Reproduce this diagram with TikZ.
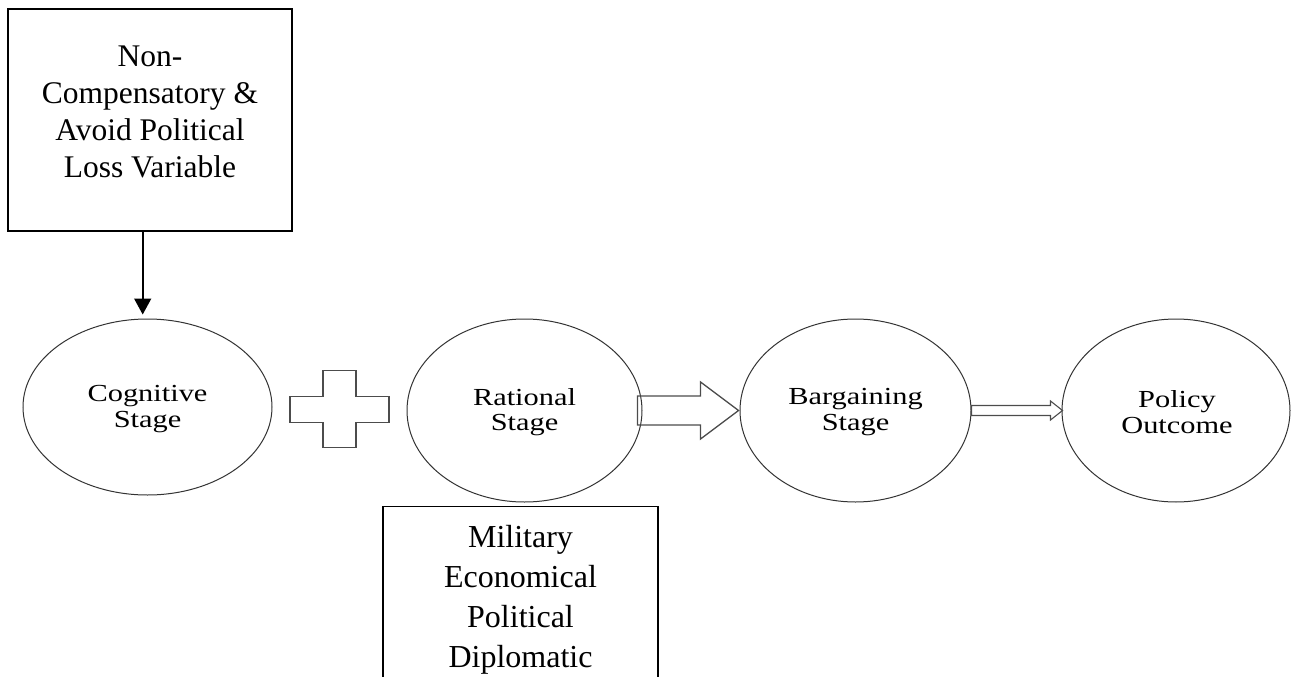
\documentclass[tikz,border=0pt]{standalone}
\usepackage{fontspec}
\setmainfont{Liberation Serif}
\newfontfamily\ellfont[FakeStretch=1.24]{Liberation Serif}
\usetikzlibrary{shapes.geometric,arrows.meta,calc}
\begin{document}
\begin{tikzpicture}[x=1pt,y=1pt,
  boxstyle/.style={draw=black,line width=1.4pt,rectangle,inner sep=0pt},
  boxtext/.style={align=center,inner sep=0pt,font=\fontsize{31.5}{37}\selectfont},
  stagestyle/.style={draw=black!80,line width=1pt,ellipse,inner sep=0pt},
  stagetext/.style={align=center,inner sep=0pt,font=\ellfont\fontsize{24.5}{25.5}\selectfont},
  shapestyle/.style={draw=black!70,line width=1.3pt,line join=miter},
  downarrow/.style={draw=black,line width=1.6pt,-{Triangle[width=17pt,length=16pt]}}
]
\useasboundingbox (0,0) rectangle (1291,-677);
\clip (0,0) rectangle (1291,-677);

% top box
\node[boxstyle,minimum width=284pt,minimum height=222pt] (lossbox) at (150,-120) {};
\node[boxtext] (losstext) at (150,-111.5) {Non-\\Compensatory \&\\Avoid Political\\Loss Variable};

% stages
\node[stagestyle,minimum width=249pt,minimum height=176pt] (cog) at (147.5,-407) {};
\node[stagestyle,minimum width=235pt,minimum height=183pt] (rat) at (524.5,-410.5) {};
\node[stagestyle,minimum width=231pt,minimum height=183pt] (barg) at (855.5,-410.5) {};
\node[stagestyle,minimum width=228pt,minimum height=183pt] (pol) at (1176,-410.5) {};
\node[stagetext] (cogtext) at (147.5,-409) {Cognitive\\Stage};
\node[stagetext] (rattext) at (524.5,-412) {Rational\\Stage};
\node[stagetext] (bargtext) at (855.5,-412) {Bargaining\\Stage};
\node[stagetext] (poltext) at (1177,-412) {Policy\\Outcome};

% bottom box (cut off at the bottom edge)
\node[boxstyle,minimum width=275pt,minimum height=260pt,anchor=north] (factbox) at (520.5,-506) {};
\node[boxtext,font=\fontsize{32}{40}\selectfont] (facttext) at (520.5,-599.5) {Military\\Economical\\Political\\Diplomatic};

% arrow from top box to cognitive stage
\draw[downarrow,shorten >=4pt] ([xshift=-7.3pt]lossbox.south) -- ([xshift=-7.3pt]lossbox.south |- cog.north);

% plus sign
\coordinate (pc) at ($(cog.east)!0.5!(rat.west)+(0,-0.5)$);
\draw[shapestyle] ($(pc)+(-49.5,13)$) -- ($(pc)+(-16.5,13)$) -- ($(pc)+(-16.5,38.5)$) -- ($(pc)+(16.5,38.5)$)
  -- ($(pc)+(16.5,13)$) -- ($(pc)+(49.5,13)$) -- ($(pc)+(49.5,-13)$) -- ($(pc)+(16.5,-13)$)
  -- ($(pc)+(16.5,-38.5)$) -- ($(pc)+(-16.5,-38.5)$) -- ($(pc)+(-16.5,-13)$) -- ($(pc)+(-49.5,-13)$) -- cycle;

% block arrow rational -> bargaining
\draw[shapestyle] let \p1=(rat.east), \p2=(barg.west) in
  (\x1-5pt,\y1+14.5pt) -- (\x2-39pt,\y1+14.5pt) -- (\x2-39pt,\y1+28.5pt) -- (\x2-1pt,\y1)
  -- (\x2-39pt,\y1-28.5pt) -- (\x2-39pt,\y1-14.5pt) -- (\x1-5pt,\y1-14.5pt) -- cycle;

% block arrow bargaining -> policy
\draw[shapestyle,line width=1.1pt] let \p1=(barg.east), \p2=(pol.west) in
  (\x1,\y1+5pt) -- (\x2-11pt,\y1+5pt) -- (\x2-11pt,\y1+9.5pt) -- (\x2+1pt,\y1)
  -- (\x2-11pt,\y1-9.5pt) -- (\x2-11pt,\y1-5pt) -- (\x1,\y1-5pt) -- cycle;
\end{tikzpicture}
\end{document}
